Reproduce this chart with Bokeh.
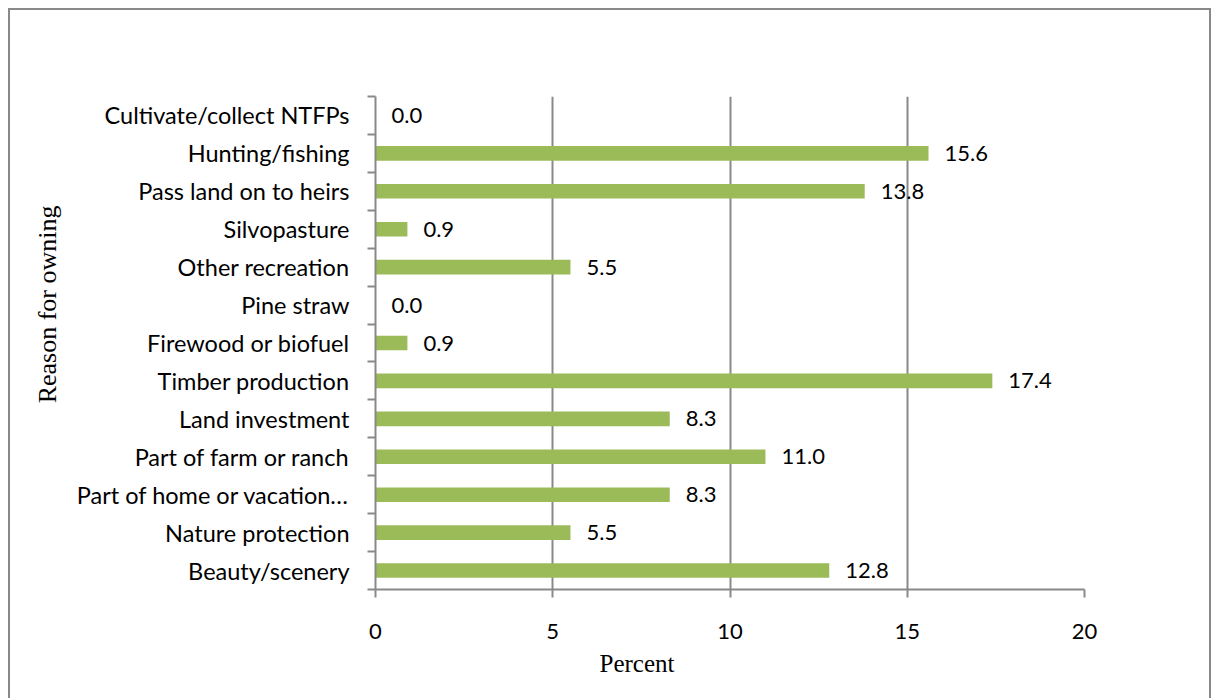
from bokeh.plotting import figure
from bokeh.models import FixedTicker, ColumnDataSource, Range1d, LabelSet, Title
from bokeh.core.properties import value
from bokeh.embed import file_html
from bokeh.resources import INLINE

# Reasons for owning forest land, listed bottom to top
reasons = [
    "Beauty/scenery",
    "Nature protection",
    "Part of home or vacation…",
    "Part of farm or ranch",
    "Land investment",
    "Timber production",
    "Firewood or biofuel",
    "Pine straw",
    "Other recreation",
    "Silvopasture",
    "Pass land on to heirs",
    "Hunting/fishing",
    "Cultivate/collect NTFPs",
]
percent = [12.8, 5.5, 8.3, 11.0, 8.3, 17.4, 0.9, 0.0, 5.5, 0.9, 13.8, 15.6, 0.0]
x_ticks = [0, 5, 10, 15, 20]

GREEN = "#9BBB59"
GRAY = "#898989"
LABEL_FONT = "Lato"
TITLE_FONT = "Liberation Serif"

n = len(reasons)
centers = [i + 0.5 for i in range(n)]
source = ColumnDataSource(dict(
    y=centers,
    pct=percent,
    txt=[f"{v:.1f}" for v in percent],
))

p = figure(
    width=1203, height=700,
    x_range=Range1d(0, 20), y_range=Range1d(0, n),
    output_backend="svg", toolbar_location=None,
    min_border_left=365, min_border_right=129,
    min_border_top=86, min_border_bottom=121,
)
p.styles = {"margin-left": "8px", "margin-top": "8px",
            "border": f"2px solid {GRAY}"}
p.outline_line_color = None
p.background_fill_color = "white"
p.border_fill_color = "white"

p.hbar(y="y", right="pct", left=0, height=0.385, source=source,
       fill_color=GREEN, line_color=None)

labels = LabelSet(x="pct", y="y", text="txt", source=source,
                  x_offset=16, text_baseline="middle", text_align="left",
                  text_font=value(LABEL_FONT), text_font_size="22px",
                  text_color="black")
p.add_layout(labels)

# x axis: percent
p.xaxis.ticker = FixedTicker(ticks=x_ticks)
p.xaxis.axis_line_color = GRAY
p.xaxis.axis_line_width = 2
p.xaxis.major_tick_line_color = GRAY
p.xaxis.major_tick_line_width = 2
p.xaxis.major_tick_out = 8
p.xaxis.major_tick_in = 0
p.xaxis.minor_tick_line_color = None
p.xaxis.major_label_standoff = 26
p.xaxis.major_label_text_font = LABEL_FONT
p.xaxis.major_label_text_font_size = "22px"
p.xaxis.major_label_text_color = "black"

# y axis: category names at centres, ticks at category boundaries
p.yaxis.ticker = FixedTicker(ticks=centers, minor_ticks=list(range(n + 1)))
p.yaxis.major_label_overrides = {c: r for c, r in zip(centers, reasons)}
p.yaxis.axis_line_color = GRAY
p.yaxis.axis_line_width = 2
p.yaxis.major_tick_line_color = None
p.yaxis.major_tick_out = 0
p.yaxis.major_tick_in = 0
p.yaxis.minor_tick_line_color = GRAY
p.yaxis.minor_tick_line_width = 2
p.yaxis.minor_tick_out = 8
p.yaxis.minor_tick_in = 0
p.yaxis.major_label_standoff = 18
p.yaxis.major_label_text_font = LABEL_FONT
p.yaxis.major_label_text_font_size = "23.5px"
p.yaxis.major_label_text_color = "black"

p.xgrid.ticker = FixedTicker(ticks=x_ticks)
p.xgrid.grid_line_color = GRAY
p.xgrid.grid_line_width = 2
p.ygrid.grid_line_color = None

# axis titles
x_title = Title(text="Percent", align="left", offset=224,
                text_font=TITLE_FONT, text_font_style="normal",
                text_font_size="25px", text_color="black", standoff=12)
p.add_layout(x_title, "below")
y_title = Title(text="Reason for owning", align="right", offset=109,
                text_font=TITLE_FONT, text_font_style="normal",
                text_font_size="26px", text_color="black", standoff=24)
p.add_layout(y_title, "left")

open("out.html", "w").write(file_html(p, INLINE))
